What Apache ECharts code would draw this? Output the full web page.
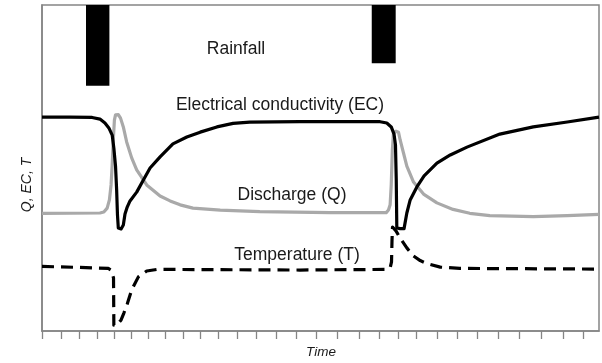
<!DOCTYPE html>
<html>
<head>
<meta charset="utf-8">
<script src="https://cdn.jsdelivr.net/npm/echarts@6/dist/echarts.min.js"></script>
<style>
  html, body { margin: 0; padding: 0; background: #fff; }
  #chart { width: 602px; height: 363px; }
</style>
</head>
<body>
<div id="chart"></div>
<script>
// Conceptual hydrograph: two rainfall events and the spring response.
// Time and the Q/EC/T axis are in relative units (0-100).

// Rainfall pulses: [start, end, top, bottom] (bars hang from the top)
const rainfall = [
  [7.9, 12.1, 100, 75.2],
  [59.2, 63.5, 100, 82.1]
];

// Electrical conductivity (EC): [time, value]
const ecSeries = [
  [0, 65.6], [5.0, 65.6], [9.0, 65.5], [10.4, 65.0], [11.3, 63.8], [12.0, 62.3],
  [12.6, 60.1], [12.9, 56.1], [13.2, 50.6], [13.4, 43.3], [13.55, 35.6], [13.7, 31.6],
  [14.2, 31.3], [14.6, 32.5], [14.9, 35.9], [15.3, 38.0], [15.8, 39.9], [17.0, 42.6],
  [18.1, 46.0], [19.4, 50.0], [21.2, 53.4], [23.5, 57.4], [26.0, 59.5], [28.4, 61.0],
  [31.4, 62.6], [34.3, 63.7], [37.3, 64.1], [46.3, 64.2], [60.7, 64.2], [61.9, 63.8],
  [62.7, 62.6], [63.2, 60.4], [63.46, 57.1], [63.6, 46.3], [63.7, 31.6], [64.3, 31.4],
  [65.0, 31.4], [65.5, 36.2], [66.1, 40.2], [67.3, 44.2], [68.6, 47.6], [70.9, 51.5],
  [73.3, 54.0], [76.3, 56.4], [82.2, 60.4], [88.2, 62.6], [94.3, 64.1], [100, 65.6]
];

// Discharge (Q): [time, value]
const qSeries = [
  [0, 36.1], [10.4, 36.2], [11.1, 36.5], [11.7, 37.7], [12.1, 40.2], [12.4, 44.8],
  [12.6, 50.9], [12.8, 58.6], [13.0, 64.7], [13.2, 66.3], [13.7, 66.4], [14.1, 65.3],
  [14.6, 62.6], [15.2, 58.0], [16.1, 53.1], [17.0, 49.4], [18.8, 44.8], [21.2, 41.4],
  [23.0, 39.9], [24.8, 38.7], [27.1, 37.7], [32.0, 37.1], [39.1, 36.6], [51.7, 36.3],
  [61.8, 36.3], [62.2, 37.1], [62.5, 38.7], [62.7, 44.8], [62.9, 55.5], [63.1, 60.7],
  [63.55, 61.3], [64.0, 61.0], [64.3, 58.6], [64.9, 54.6], [65.5, 50.6], [66.7, 45.7],
  [68.5, 42.0], [70.9, 39.3], [73.8, 37.3], [76.8, 36.1], [80.4, 35.4], [88.2, 35.1],
  [94.3, 35.4], [100, 35.8]
];

// Temperature (T): [time, value]
const tSeries = [
  [0, 19.8], [6.8, 19.5], [11.9, 19.2], [12.4, 18.7], [12.84, 16.3], [12.9, 1.8],
  [13.3, 1.5], [13.7, 2.3], [14.2, 3.4], [14.7, 5.5], [15.3, 8.3], [16.1, 12.6],
  [17.3, 16.6], [18.8, 18.4], [20.7, 18.9], [46.3, 18.7], [61.6, 18.9], [62.5, 19.3],
  [62.75, 21.2], [62.84, 27.9], [62.93, 31.9], [63.2, 32.1], [63.55, 30.7], [64.3, 28.5],
  [65.5, 25.5], [66.7, 23.0], [67.9, 21.6], [69.1, 20.7], [71.5, 19.6], [75.0, 19.2],
  [99.3, 19.0]
];

// Positions of the time-axis tick marks
const timeTicks = [
  0, 3.4, 6.7, 10.0, 12.9, 16.1, 19.1, 22.1, 25.3, 28.4, 31.7, 35.1, 38.4, 42.1,
  45.7, 49.2, 53.0, 57.0, 60.6, 64.0, 67.2, 70.9, 74.5, 78.2, 81.9, 85.7, 89.7,
  93.6, 97.2
];

// Annotation texts
const seriesLabels = {
  rain: 'Rainfall',
  ec: 'Electrical conductivity (EC)',
  q: 'Discharge (Q)',
  t: 'Temperature (T)'
};
const yTitle = 'Q, EC, T';
const xTitle = 'Time';

const FONT = "'Liberation Sans', Arial, sans-serif";
const FRAME = '#858585';

const chart = echarts.init(document.getElementById('chart'), null, { renderer: 'canvas' });

const textStyle = (txt, size, italic) => ({
  text: txt,
  fill: '#1a1a1a',
  font: (italic ? 'italic ' : '') + size + 'px ' + FONT,
  textAlign: 'center',
  textVerticalAlign: 'middle'
});

chart.setOption({
  animation: false,
  backgroundColor: '#ffffff',
  grid: {
    left: 42, right: 3, top: 5, bottom: 32,
    show: true, borderColor: FRAME, borderWidth: 1.5, backgroundColor: 'transparent'
  },
  xAxis: {
    type: 'value', min: 0, max: 100,
    axisLine: { show: true, lineStyle: { color: FRAME, width: 1.5 } },
    axisTick: { show: true, inside: false, length: 8, customValues: timeTicks,
                lineStyle: { color: FRAME, width: 1.3 } },
    axisLabel: { show: false },
    splitLine: { show: false }
  },
  yAxis: {
    type: 'value', min: 0, max: 100,
    axisLine: { show: true, lineStyle: { color: FRAME, width: 1.5 } },
    axisTick: { show: false },
    axisLabel: { show: false },
    splitLine: { show: false }
  },
  series: [
    {
      name: 'Rainfall', type: 'custom', z: 2,
      renderItem: function (params, api) {
        const a = api.coord([api.value(0), api.value(2)]);
        const b = api.coord([api.value(1), api.value(3)]);
        return {
          type: 'rect',
          shape: { x: a[0], y: a[1], width: b[0] - a[0], height: b[1] - a[1] },
          style: { fill: '#000000' }
        };
      },
      encode: { x: [0, 1], y: [2, 3] },
      data: rainfall
    },
    {
      name: 'Q', type: 'line', z: 3, data: qSeries, showSymbol: false, smooth: false,
      lineStyle: { color: '#a9a9a9', width: 3.2, join: 'round' }
    },
    {
      name: 'EC', type: 'line', z: 4, data: ecSeries, showSymbol: false, smooth: false,
      lineStyle: { color: '#000000', width: 3.2, join: 'round' }
    },
    {
      name: 'T', type: 'line', z: 5, data: tSeries, showSymbol: false, smooth: false,
      lineStyle: { color: '#000000', width: 3.2, type: [12, 7], cap: 'butt', join: 'round' }
    }
  ],
  graphic: [
    { type: 'text', x: 236, y: 49, style: textStyle(seriesLabels.rain, 17.5) },
    { type: 'text', x: 280, y: 105, style: textStyle(seriesLabels.ec, 17.5) },
    { type: 'text', x: 292, y: 195, style: textStyle(seriesLabels.q, 17.5) },
    { type: 'text', x: 297, y: 255.5, style: textStyle(seriesLabels.t, 17.5) },
    { type: 'text', x: 321, y: 352.5, style: textStyle(xTitle, 13.5, true) },
    { type: 'text', x: 27, y: 185, rotation: Math.PI / 2, style: textStyle(yTitle, 14, true) }
  ]
});
</script>
</body>
</html>
